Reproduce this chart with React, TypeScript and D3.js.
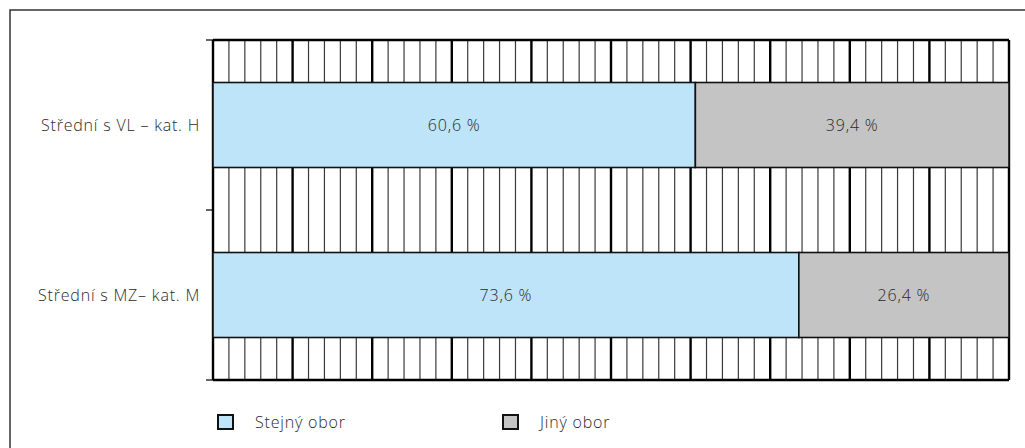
import React from "react";
import * as d3 from "d3";

const categories = ["Střední s VL – kat. H", "Střední s MZ– kat. M"];
const seriesNames = ["Stejný obor", "Jiný obor"];
const sameField = [60.6, 73.6];
const otherField = [39.4, 26.4];
const colors = ["#bde4f8", "#c4c4c4"];

const W = 1025;
const H = 448;
const left = 213;
const right = 1009;
const top = 40;
const bottom = 380;
const font = "'Open Sans', 'DejaVu Sans', sans-serif";
const fs = 16;
const ls = 0.8;

export default function App() {
  const x = d3.scaleLinear().domain([0, 100]).range([left, right]);
  const y = d3.scaleBand().domain(categories).range([top, bottom]).paddingInner(0.5).paddingOuter(0.25);
  const yOuter = d3.scaleBand().domain(categories).range([top, bottom]);
  const minor = d3.range(0, 101, 2).filter((v) => v % 10 !== 0);
  const major = d3.range(0, 101, 10);
  const boundaries = [top, ...categories.map((c) => (yOuter(c) as number) + yOuter.bandwidth())];

  const stacks = categories.map((c, i) => {
    const vals = [sameField[i], otherField[i]];
    let acc = 0;
    return vals.map((v, k) => {
      const s = { x0: acc, x1: acc + v, v, k };
      acc += v;
      return s;
    });
  });

  const fmt = (v: number) => v.toFixed(1).replace(".", ",") + " %";

  return (
    <svg width={W} height={H} style={{ position: "absolute", left: 0, top: 0 }}>
      <rect x={0} y={0} width={W} height={H} fill="#fff" />
      <rect x={10} y={10} width={W + 20} height={H + 20} fill="none" stroke="#333" strokeWidth={1.5} />
      {minor.map((v) => (
        <line key={"mi" + v} x1={x(v)} x2={x(v)} y1={top} y2={bottom} stroke="#3a3a3a" strokeWidth={1.2} />
      ))}
      {major.map((v) => (
        <line key={"ma" + v} x1={x(v)} x2={x(v)} y1={top} y2={bottom} stroke="#000" strokeWidth={2.4} />
      ))}
      <line x1={left} x2={right} y1={top} y2={top} stroke="#000" strokeWidth={2.4} />
      <line x1={left} x2={right} y1={bottom} y2={bottom} stroke="#000" strokeWidth={2.4} />
      {boundaries.map((b, i) => (
        <line key={"t" + i} x1={left - 7} x2={left} y1={b} y2={b} stroke="#000" strokeWidth={1.2} />
      ))}
      {categories.map((c, i) => (
        <g key={c}>
          {stacks[i].map((s) => (
            <g key={s.k}>
              <rect
                x={x(s.x0)}
                y={y(c) as number}
                width={x(s.x1) - x(s.x0)}
                height={y.bandwidth()}
                fill={colors[s.k]}
                stroke="#111"
                strokeWidth={1.6}
              />
              <text
                x={(x(s.x0) + x(s.x1)) / 2}
                y={(y(c) as number) + y.bandwidth() / 2}
                dy="0.35em"
                textAnchor="middle"
                fontFamily={font}
                fontWeight={300}
                fontSize={fs}
                letterSpacing={ls}
                fill="#2a2a2a"
              >
                {fmt(s.v)}
              </text>
            </g>
          ))}
          <text
            x={200}
            y={(yOuter(c) as number) + yOuter.bandwidth() / 2}
            dy="0.35em"
            textAnchor="end"
            fontFamily={font}
            fontWeight={300}
            fontSize={fs}
            letterSpacing={ls}
            fill="#2a2a2a"
          >
            {c}
          </text>
        </g>
      ))}
      {seriesNames.map((n, i) => (
        <g key={n} transform={`translate(${218 + i * 285},415)`}>
          <rect x={0} y={0} width={15} height={14} fill={colors[i]} stroke="#111" strokeWidth={2} />
          <text x={37} y={7} dy="0.35em" fontFamily={font} fontWeight={300} fontSize={fs} letterSpacing={ls} fill="#2a2a2a">
            {n}
          </text>
        </g>
      ))}
    </svg>
  );
}
